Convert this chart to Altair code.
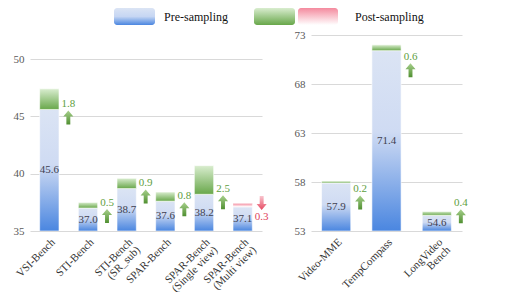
import altair as alt
import numpy as np
import pandas as pd

# ---- data ----
left_cats = ["VSI-Bench", "STI-Bench", "STI-Bench\n(SR_sub)", "SPAR-Bench",
             "SPAR-Bench\n(Single view)", "SPAR-Bench\n(Multi view)"]
left_pre = [45.6, 37.0, 38.7, 37.6, 38.2, 37.1]
left_delta = [1.8, 0.5, 0.9, 0.8, 2.5, -0.3]
left_ticks = [35, 40, 45, 50]

right_cats = ["Video-MME", "TempCompass", "LongVideo\nBench"]
right_pre = [57.9, 71.4, 54.6]
right_delta = [0.2, 0.6, 0.4]
right_ticks = [53, 58, 63, 68, 73]

legend_labels = ["Pre-sampling", "Post-sampling"]

FONT = "Liberation Serif"


def grad(stops):
    return alt.Gradient(gradient="linear", x1=0, y1=0, x2=0, y2=1,
                        stops=[alt.GradientStop(offset=o, color=c) for o, c in stops])


BLUE = grad([(0, "#dbe4f4"), (0.45, "#cfdbf3"), (1, "#4a86e0")])
GREEN = grad([(0, "#d9edcf"), (1, "#68a74a")])
PINK = grad([(0, "#f48a9e"), (1, "#ffffff")])
ARROW_G = grad([(0, "#a8d08d"), (1, "#4f8f30")])
ARROW_R = grad([(0, "#f9c6cf"), (1, "#e64a62")])
LEG_BLUE = grad([(0, "#dbe4f4"), (0.5, "#c6d6f3"), (1, "#4a86e0")])

UP = "M0,-1L0.72,-0.15L0.28,-0.15L0.28,1L-0.28,1L-0.28,-0.15L-0.72,-0.15Z"
DOWN = "M0,1L0.72,0.15L0.28,0.15L0.28,-1L-0.28,-1L-0.28,0.15L-0.72,0.15Z"

GREEN_TXT = "#5e9e3e"
RED_TXT = "#e0425a"
VAL_TXT = "#3f3f4f"


def panel(cats, pre, delta, base, dom_top, ticks, width, pin, pout, dx,
          arr_drop, arr_floor):
    df = pd.DataFrame({"cat": cats, "pre": pre, "delta": delta})
    df["absd"] = df["delta"].abs()
    df["top"] = df["pre"] + df["absd"]
    df["mid"] = (df["pre"] + base) / 2
    df["base"] = base
    # up-arrow anchor: a little below the pre-sampling top, never too close to the baseline
    df["arr"] = np.maximum(df["pre"] - arr_drop, base + arr_floor)

    x = alt.X("cat:N", sort=cats,
              scale=alt.Scale(paddingInner=pin, paddingOuter=pout),
              axis=alt.Axis(title=None, labelAngle=-45, domain=False, ticks=False,
                            labelExpr="split(datum.label, '\\n')",
                            labelFont=FONT, labelFontSize=11, labelColor="#333333",
                            labelPadding=5, labelLineHeight=11))
    yscale = alt.Scale(domain=[base, dom_top], nice=False, zero=False)
    yaxis = alt.Axis(title=None, values=ticks, grid=True, ticks=False, domain=False,
                     labelFont=FONT, labelFontSize=11, labelColor="#595959",
                     labelPadding=6)

    def Y(f):
        return alt.Y(f, scale=yscale, axis=yaxis)

    b = alt.Chart(df)
    up = b.transform_filter("datum.delta > 0")
    dn = b.transform_filter("datum.delta < 0")
    pre_bar = b.mark_bar(fill=BLUE, stroke="white", strokeWidth=0.6, clip=True).encode(
        x=x, y=Y("pre:Q"), y2="base:Q")
    up_bar = up.mark_bar(fill=GREEN, stroke="white", strokeWidth=0.6).encode(
        x=x, y=Y("top:Q"), y2="pre:Q")
    dn_bar = dn.mark_bar(fill=PINK, stroke="white", strokeWidth=0.3).encode(
        x=x, y=Y("top:Q"), y2="pre:Q")
    val = b.mark_text(font=FONT, fontSize=11, color=VAL_TXT).encode(
        x=x, y=Y("mid:Q"), text=alt.Text("pre:Q", format=".1f"))
    up_arr = up.mark_point(
        shape=UP, filled=True, fill=ARROW_G, size=196, opacity=1, strokeWidth=0,
        xOffset=dx).encode(x=x, y=Y("arr:Q"))
    up_lab = up.mark_text(
        font=FONT, fontSize=11, color=GREEN_TXT, dx=dx, dy=-13.5).encode(
        x=x, y=Y("arr:Q"), text=alt.Text("absd:Q", format=".1f"))
    dn_arr = dn.mark_point(
        shape=DOWN, filled=True, fill=ARROW_R, size=196, opacity=1, strokeWidth=0,
        xOffset=dx, yOffset=-4).encode(x=x, y=Y("pre:Q"))
    dn_lab = dn.mark_text(
        font=FONT, fontSize=11, color=RED_TXT, dx=dx, dy=10).encode(
        x=x, y=Y("pre:Q"), text=alt.Text("absd:Q", format=".1f"))

    layers = [pre_bar, up_bar, val, up_arr, up_lab]
    if any(d < 0 for d in delta):
        layers += [dn_bar, dn_arr, dn_lab]
    return alt.layer(*layers).properties(width=width, height=196)


left = panel(left_cats, left_pre, left_delta, 35, 35 + 196 / (172 / 15), left_ticks,
             232, 0.5, 0.25, 19, 0.7, 1.0)
right = panel(right_cats, right_pre, right_delta, 53, 73, right_ticks,
              151, 0.42, 0.21, 24, 2.0, 1.5)

# ---- custom legend ----
one = pd.DataFrame({"k": [0]})
lb = alt.Chart(one)


def swatch(fill, x0, x1):
    return lb.mark_rect(fill=fill, cornerRadius=3).encode(
        x=alt.value(x0), x2=alt.value(x1), y=alt.value(0), y2=alt.value(17))


def label(txt, x0):
    return lb.mark_text(font=FONT, fontSize=12, color="#111111", align="left",
                        baseline="middle").encode(
        x=alt.value(x0), y=alt.value(8.5), text=alt.value(txt))


legend = alt.layer(
    swatch(LEG_BLUE, 84, 125), label(legend_labels[0], 134),
    swatch(GREEN, 224, 265), swatch(PINK, 268, 308), label(legend_labels[1], 325),
).properties(width=450, height=17)

chart = alt.vconcat(
    legend,
    alt.hconcat(left, right, spacing=25),
    spacing=4,
).properties(
    padding={"top": 0, "left": 5, "right": 5, "bottom": 0}
).configure_view(stroke=None).configure_axis(gridColor="#d9d9d9", gridWidth=1)

chart.save("out.html", embed_options={"renderer": "svg", "actions": False})
